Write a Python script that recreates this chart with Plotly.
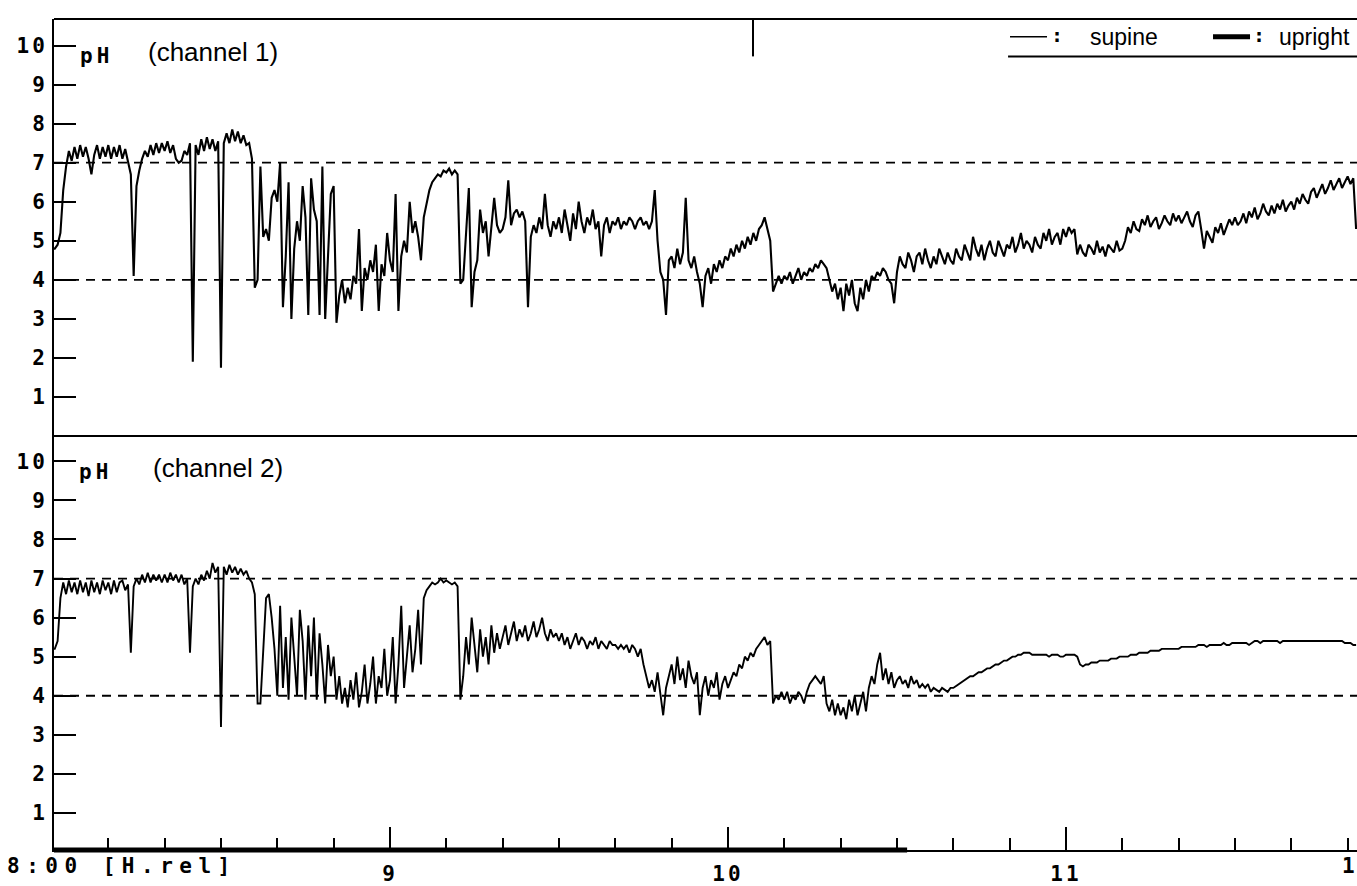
import numpy as np
import plotly.graph_objects as go

# ---------------- data ----------------
SAMPLE_MIN = 0.5          # one reading every half minute, starting 8:00
START_HOUR = 8.0

# pH, channel 1 (one line = 10 minutes)
CH1_PH = [
    4.8, 4.8, 4.9, 5.2, 6.3, 6.9, 7.3, 7.05, 7.4, 7.1, 7.45, 7.15, 7.4, 7.1, 6.7, 7.2, 7.45, 7.1, 7.4, 7.15,
    7.45, 7.1, 7.4, 7.15, 7.45, 7.1, 7.35, 7.05, 6.7, 4.1, 6.4, 6.8, 7.1, 7.3, 7.15, 7.45, 7.2, 7.5, 7.25, 7.5,
    7.3, 7.55, 7.25, 7.45, 7.1, 7.0, 7.05, 7.3, 7.2, 7.5, 1.9, 7.45, 7.2, 7.6, 7.3, 7.65, 7.35, 7.6, 7.3, 7.55,
    1.75, 7.5, 7.75, 7.5, 7.85, 7.55, 7.8, 7.5, 7.7, 7.45, 7.5, 7.1, 3.8, 4.0, 6.9, 5.1, 5.3, 5.0, 6.1, 6.3,
    6.0, 7.0, 3.3, 4.6, 6.5, 3.0, 4.8, 5.5, 5.0, 6.4, 5.6, 3.1, 6.6, 5.8, 5.5, 3.1, 6.9, 3.0, 4.5, 6.2,
    6.4, 2.9, 3.6, 4.0, 3.4, 3.8, 3.5, 4.1, 3.9, 5.3, 3.2, 4.3, 4.0, 4.5, 4.2, 4.9, 3.2, 4.4, 4.1, 5.2,
    4.5, 4.2, 6.2, 3.2, 4.6, 5.0, 4.7, 6.0, 5.2, 5.5, 5.1, 4.5, 5.6, 6.0, 6.3, 6.5, 6.6, 6.7, 6.65, 6.8,
    6.75, 6.85, 6.7, 6.8, 6.7, 3.9, 4.0, 5.2, 6.35, 3.3, 4.2, 4.5, 5.8, 5.2, 5.5, 4.6, 5.3, 6.1, 5.4, 5.2,
    5.3, 5.6, 6.55, 5.4, 5.7, 5.8, 5.6, 5.75, 5.5, 3.3, 5.1, 5.4, 5.2, 5.6, 5.3, 6.2, 5.4, 5.1, 5.5, 5.3,
    5.6, 5.2, 5.8, 5.4, 5.0, 5.7, 5.3, 6.0, 5.5, 5.2, 5.6, 5.4, 5.8, 5.3, 5.5, 4.6, 5.4, 5.6, 5.2, 5.5,
    5.4, 5.6, 5.3, 5.5, 5.4, 5.6, 5.5, 5.3, 5.5, 5.6, 5.4, 5.5, 5.3, 5.5, 6.3, 5.0, 4.2, 4.0, 3.1, 4.5,
    4.6, 4.3, 4.8, 4.4, 4.7, 6.1, 4.5, 4.3, 4.6, 4.2, 3.9, 3.3, 4.1, 4.3, 3.9, 4.4, 4.2, 4.5, 4.3, 4.6,
    4.5, 4.8, 4.6, 4.9, 4.7, 5.0, 4.8, 5.1, 4.9, 5.2, 5.0, 5.3, 5.4, 5.6, 5.3, 5.0, 3.7, 3.9, 4.1, 3.9,
    4.1, 4.0, 4.2, 3.9, 4.1, 4.3, 4.0, 4.2, 4.1, 4.3, 4.2, 4.4, 4.3, 4.5, 4.4, 4.3, 4.0, 3.7, 3.9, 3.5,
    3.8, 3.2, 3.9, 3.6, 4.0, 3.4, 3.2, 3.8, 3.5, 4.0, 3.7, 4.1, 4.0, 4.2, 4.1, 4.3, 4.2, 4.0, 3.9, 3.4,
    4.2, 4.6, 4.4, 4.3, 4.7, 4.5, 4.2, 4.6, 4.7, 4.4, 4.8, 4.5, 4.3, 4.6, 4.4, 4.8, 4.6, 4.4, 4.7, 4.5,
    4.4, 4.8, 4.6, 4.5, 4.9, 4.7, 4.5, 5.1, 4.8, 4.6, 4.9, 4.5, 4.8, 5.0, 4.7, 4.6, 5.0, 4.8, 4.6, 4.9,
    4.8, 5.1, 4.7, 4.9, 5.2, 4.8, 5.0, 4.9, 4.7, 5.1, 4.9, 4.8, 5.2, 5.0, 5.3, 4.9, 5.1, 5.2, 4.9, 5.3,
    5.1, 5.35, 5.2, 5.3, 4.65, 4.9, 4.7, 4.6, 4.9, 4.8, 4.65, 5.0, 4.7, 4.85, 4.6, 4.9, 4.8, 4.7, 5.0, 4.75,
    4.8, 5.0, 5.35, 5.2, 5.5, 5.3, 5.25, 5.55, 5.4, 5.65, 5.35, 5.5, 5.6, 5.3, 5.45, 5.65, 5.5, 5.4, 5.7, 5.5,
    5.65, 5.45, 5.6, 5.75, 5.5, 5.35, 5.65, 5.75, 5.3, 4.8, 5.25, 5.1, 4.95, 5.35, 5.2, 5.45, 5.15, 5.35, 5.55, 5.4,
    5.6, 5.4, 5.5, 5.7, 5.45, 5.75, 5.6, 5.85, 5.55, 5.7, 5.95, 5.75, 5.65, 5.9, 5.7, 5.95, 5.8, 6.05, 5.75, 5.9,
    6.0, 5.8, 6.1, 5.95, 6.2, 6.05, 5.95, 6.25, 6.35, 6.1, 6.3, 6.45, 6.2, 6.35, 6.55, 6.3, 6.45, 6.6, 6.35, 6.5,
    6.65, 6.45, 6.6, 5.3,
]

# pH, channel 2 (one line = 10 minutes)
CH2_PH = [
    5.2, 5.2, 5.4, 6.5, 6.9, 6.6, 6.95, 6.65, 6.9, 6.6, 6.95, 6.65, 6.9, 6.55, 6.95, 6.65, 6.9, 6.6, 6.95, 6.7,
    6.9, 6.6, 6.95, 6.65, 6.9, 6.95, 6.7, 6.85, 5.1, 6.8, 7.0, 6.85, 7.1, 6.9, 7.15, 6.9, 7.1, 6.95, 7.1, 6.9,
    7.1, 6.9, 7.15, 6.95, 7.1, 6.9, 7.1, 6.85, 7.0, 5.1, 6.8, 7.0, 6.85, 7.1, 6.95, 7.2, 7.0, 7.4, 7.15, 7.3,
    3.2, 7.3, 7.1, 7.35, 7.15, 7.3, 7.1, 7.25, 7.1, 7.2, 7.0, 6.9, 6.6, 3.8, 3.8, 5.0, 6.5, 6.6, 6.0, 5.2,
    4.0, 6.3, 4.2, 5.5, 3.9, 6.0, 5.0, 4.0, 6.2, 5.4, 3.9, 5.8, 4.5, 6.0, 3.9, 5.6, 4.8, 3.8, 5.3, 4.5,
    5.0, 3.9, 4.5, 3.8, 4.2, 3.7, 4.4, 3.9, 4.6, 3.7, 4.1, 4.8, 3.8, 4.3, 5.0, 3.8, 4.5, 4.2, 5.2, 4.0,
    4.4, 5.5, 3.8, 4.8, 6.3, 4.2, 5.0, 5.8, 4.6, 5.2, 6.2, 4.8, 6.5, 6.7, 6.8, 6.9, 6.85, 6.9, 7.0, 6.9,
    6.95, 6.9, 6.85, 6.9, 6.8, 3.9, 4.5, 5.5, 4.8, 6.0, 5.2, 4.6, 5.7, 5.0, 5.5, 4.8, 5.8, 5.1, 5.6, 5.2,
    5.5, 5.8, 5.3, 5.6, 5.9, 5.4, 5.7, 5.5, 5.8, 5.4, 5.6, 5.9, 5.5, 5.7, 6.0, 5.6, 5.4, 5.7, 5.5, 5.6,
    5.4, 5.6, 5.3, 5.5, 5.2, 5.4, 5.6, 5.3, 5.5, 5.4, 5.2, 5.4, 5.3, 5.5, 5.2, 5.4, 5.3, 5.2, 5.4, 5.3,
    5.3, 5.2, 5.3, 5.2, 5.3, 5.1, 5.3, 5.2, 5.0, 5.2, 4.8, 4.5, 4.2, 4.4, 4.1, 4.6, 4.0, 3.5, 4.2, 4.5,
    4.8, 4.3, 5.0, 4.4, 4.7, 4.2, 4.9, 4.5, 4.3, 4.6, 3.5, 4.2, 4.5, 4.0, 4.4, 4.2, 4.6, 3.9, 4.3, 4.5,
    4.2, 4.4, 4.6, 4.5, 4.8, 4.7, 5.0, 4.9, 5.1, 5.0, 5.2, 5.3, 5.4, 5.5, 5.3, 5.4, 3.8, 4.0, 3.9, 4.1,
    3.9, 4.1, 3.8, 4.0, 3.9, 4.1, 4.0, 3.8, 4.1, 4.3, 4.4, 4.5, 4.4, 4.3, 4.5, 3.8, 3.6, 3.9, 3.5, 3.8,
    3.5, 3.7, 3.4, 3.9, 3.6, 4.0, 3.5, 3.8, 4.1, 3.6, 4.2, 4.5, 4.3, 4.8, 5.1, 4.4, 4.7, 4.3, 4.6, 4.2,
    4.4, 4.5, 4.3, 4.4, 4.2, 4.5, 4.3, 4.4, 4.2, 4.3, 4.2, 4.3, 4.1, 4.2, 4.15, 4.1, 4.2, 4.15, 4.1, 4.2,
    4.2, 4.25, 4.3, 4.35, 4.4, 4.45, 4.5, 4.5, 4.55, 4.6, 4.6, 4.65, 4.7, 4.7, 4.75, 4.8, 4.8, 4.85, 4.9, 4.9,
    4.95, 5.0, 5.0, 5.05, 5.05, 5.1, 5.1, 5.1, 5.05, 5.05, 5.05, 5.05, 5.05, 5.05, 5.0, 5.05, 5.05, 5.05, 5.0, 5.0,
    5.05, 5.05, 5.05, 5.05, 5.0, 4.8, 4.75, 4.8, 4.8, 4.85, 4.85, 4.85, 4.9, 4.9, 4.9, 4.9, 4.95, 4.95, 4.95, 5.0,
    5.0, 5.0, 5.0, 5.05, 5.05, 5.05, 5.1, 5.1, 5.1, 5.1, 5.15, 5.15, 5.15, 5.15, 5.2, 5.2, 5.2, 5.2, 5.2, 5.2,
    5.2, 5.25, 5.25, 5.25, 5.25, 5.25, 5.25, 5.3, 5.3, 5.3, 5.25, 5.3, 5.3, 5.3, 5.3, 5.3, 5.35, 5.3, 5.3, 5.35,
    5.35, 5.35, 5.35, 5.35, 5.35, 5.3, 5.35, 5.4, 5.4, 5.35, 5.4, 5.4, 5.4, 5.4, 5.4, 5.4, 5.35, 5.4, 5.4, 5.4,
    5.4, 5.4, 5.4, 5.4, 5.4, 5.4, 5.4, 5.4, 5.4, 5.4, 5.4, 5.4, 5.4, 5.4, 5.4, 5.4, 5.4, 5.4, 5.4, 5.35,
    5.35, 5.35, 5.3, 5.3,
]

THRESHOLDS = [4, 7]                 # dashed reference lines (pH)
Y_TICKS = list(range(1, 11))
X_TICK_HOURS = [8, 9, 10, 11]
X_TICK_TEXT = ["", "9", "10", "11"]
UPRIGHT_PERIOD = (8.0, 10.53)       # thick bar on the time axis
EVENT_MARK_HOUR = 10.074
LEGEND_LABELS = ["supine", "upright"]

# ---------------- figure ----------------
n = min(len(CH1_PH), len(CH2_PH))
t = START_HOUR + np.arange(n) * SAMPLE_MIN / 60.0

MONO = "DejaVu Sans Mono"
SANS = "Liberation Sans, Arial, sans-serif"


def wide(s, sp=3):
    """render text with the wide letter spacing of the recorder's bitmap font"""
    return f'<span style="letter-spacing:{sp}px">{s}</span>' if s else s


fig = go.Figure()
fig.add_trace(go.Scatter(x=t, y=CH1_PH[:n], yaxis="y2", mode="lines",
                         line=dict(color="black", width=2.1), hoverinfo="skip",
                         showlegend=False))
fig.add_trace(go.Scatter(x=t, y=CH2_PH[:n], yaxis="y", mode="lines",
                         line=dict(color="black", width=1.9), hoverinfo="skip",
                         showlegend=False))

SPLIT = 0.4982
axis_common = dict(
    showgrid=False, zeroline=False, showline=True, linecolor="black", linewidth=2,
    ticks="inside", ticklen=22, tickwidth=2, tickcolor="black",
    tickvals=Y_TICKS, ticktext=[wide(str(v)) for v in Y_TICKS],
    tickfont=dict(family=MONO, size=21, color="black", weight="bold"),
    ticklabelstandoff=0,
)

fig.update_layout(
    width=1357, height=886,
    margin=dict(l=54, r=0, t=19, b=26),
    paper_bgcolor="white", plot_bgcolor="white",
    xaxis=dict(
        range=[8.006, 11.861], showgrid=False, zeroline=False,
        showline=True, linecolor="black", linewidth=2,
        ticks="inside", ticklen=23, tickwidth=2, tickcolor="black",
        tickvals=X_TICK_HOURS, ticktext=[wide(s) for s in X_TICK_TEXT],
        tickfont=dict(family=MONO, size=21, color="black", weight="bold"),
        ticklabelstandoff=4,
        minor=dict(ticks="inside", ticklen=12, tickwidth=1.5, tickcolor="black",
                   dtick=1 / 6, tick0=8, showgrid=False),
        anchor="y",
    ),
    yaxis=dict(domain=[0, SPLIT], range=[0.05, 10.65], anchor="x", **axis_common),
    yaxis2=dict(domain=[SPLIT, 1], range=[0, 10.68], anchor="x", **axis_common),
    showlegend=False,
)

shapes = []
# frame lines: top border and panel divider
shapes.append(dict(type="line", xref="paper", yref="paper", x0=0, x1=1, y0=1, y1=1,
                   line=dict(color="black", width=2)))
shapes.append(dict(type="line", xref="paper", yref="paper", x0=0, x1=1, y0=SPLIT, y1=SPLIT,
                   line=dict(color="black", width=2)))
# dashed thresholds in both panels
for yref in ("y", "y2"):
    for th in THRESHOLDS:
        shapes.append(dict(type="line", xref="paper", yref=yref, x0=0, x1=1, y0=th, y1=th,
                           line=dict(color="black", width=1.8, dash="9px,7px"), layer="below"))
# upright period: thick bar on time axis
shapes.append(dict(type="line", xref="x", yref="paper", x0=UPRIGHT_PERIOD[0], x1=UPRIGHT_PERIOD[1],
                   y0=0, y1=0, line=dict(color="black", width=5)))
# event marker at the top
shapes.append(dict(type="line", xref="x", yref="paper", x0=EVENT_MARK_HOUR, x1=EVENT_MARK_HOUR,
                   y0=1, y1=0.955, line=dict(color="black", width=2)))
# legend box
LEG_Y = 0.9786
shapes.append(dict(type="line", xref="paper", yref="paper", x0=0.7322, x1=1, y0=0.9548, y1=0.9548,
                   line=dict(color="black", width=2)))
shapes.append(dict(type="line", xref="paper", yref="paper", x0=0.7337, x1=0.7621, y0=LEG_Y, y1=LEG_Y,
                   line=dict(color="black", width=1.5)))
shapes.append(dict(type="line", xref="paper", yref="paper", x0=0.8895, x1=0.9179, y0=LEG_Y, y1=LEG_Y,
                   line=dict(color="black", width=5)))
fig.update_layout(shapes=shapes)

ann = []
def txt(x, y, s, font, xref="paper", yref="paper", xanchor="left", yanchor="middle"):
    ann.append(dict(x=x, y=y, xref=xref, yref=yref, text=s, showarrow=False,
                    xanchor=xanchor, yanchor=yanchor, font=font))

f_sans = dict(family=SANS, size=23, color="black")
f_chan = dict(family=SANS, size=26, color="black")
f_mono = dict(family=MONO, size=21, color="black", weight="bold")

# panel titles
txt(0.0185, 9.72, wide("pH", 4), f_mono, yref="y2")
txt(0.0705, 9.84, "(channel 1)", f_chan, yref="y2")
txt(0.0175, 9.72, wide("pH", 4), f_mono, yref="y")
txt(0.0745, 9.84, "(channel 2)", f_chan, yref="y")
# legend texts
txt(0.7635, LEG_Y + 0.002, ":", dict(family=MONO, size=20, color="black", weight="bold"))
txt(0.7935, LEG_Y, LEGEND_LABELS[0], f_sans)
txt(0.9190, LEG_Y + 0.002, ":", dict(family=MONO, size=20, color="black", weight="bold"))
txt(0.9386, LEG_Y, LEGEND_LABELS[1], f_sans)
# time-axis caption
ann.append(dict(x=-0.0375, y=-0.0195, xref="paper", yref="paper", text=wide("8:00 [H.rel]", 6.5),
                showarrow=False, xanchor="left", yanchor="middle", font=f_mono))
ann.append(dict(x=1.0, y=-0.0195, xref="paper", yref="paper", text="1",
                showarrow=False, xanchor="right", yanchor="middle", font=f_mono))
fig.update_layout(annotations=ann)

fig.write_html("out.html", config={"displayModeBar": False})

# remove the browser's default page margin so the figure fills the window exactly
with open("out.html", "r", encoding="utf-8") as fh:
    page = fh.read()
page = page.replace("<head>", "<head><style>html,body{margin:0;padding:0;overflow:hidden;}</style>", 1)
with open("out.html", "w", encoding="utf-8") as fh:
    fh.write(page)
